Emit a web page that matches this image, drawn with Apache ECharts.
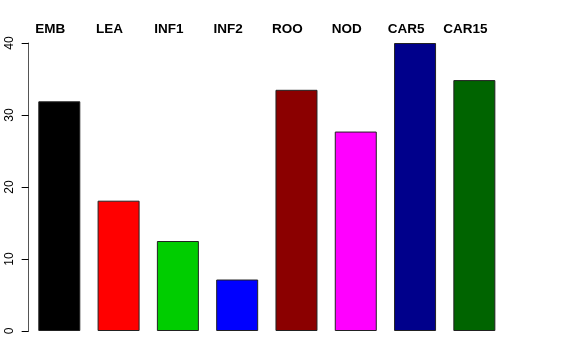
<!DOCTYPE html>
<html><head><meta charset="utf-8">
<script src="https://cdn.jsdelivr.net/npm/echarts@6/dist/echarts.min.js"></script>
<style>html,body{margin:0;padding:0;background:#fff}#c{width:576px;height:360px}</style>
</head><body><div id="c"></div>
<script>
const categories = ['EMB','LEA','INF1','INF2','ROO','NOD','CAR5','CAR15'];
const values = [31.9, 18.1, 12.5, 7.15, 33.5, 27.7, 40.0, 34.85];
const barColors = ['#000000','#FF0000','#00CD00','#0000FF','#8B0000','#FF00FF','#00008B','#006400'];
const yTicks = [0, 10, 20, 30, 40];

const chart = echarts.init(document.getElementById('c'));
chart.setOption({
  animation: false,
  backgroundColor: '#ffffff',
  textStyle: {fontFamily: 'Liberation Sans'},
  grid: {left: 29.65, right: 72, top: 43, bottom: 29, containLabel: false},
  xAxis: {
    type: 'category', data: categories, position: 'top',
    axisLine: {show: false}, axisTick: {show: false},
    axisLabel: {fontFamily: 'Liberation Sans', fontWeight: 'bold', fontSize: 13.5, color: '#000',
      margin: 7, padding: [0, 18, 0, 0], interval: 0}
  },
  yAxis: {
    type: 'value', min: yTicks[0], max: yTicks[yTicks.length-1], interval: 10, offset: 1,
    splitLine: {show: false},
    axisLine: {show: true, lineStyle: {color: '#555', width: 1}},
    axisTick: {show: true, length: 7, lineStyle: {color: '#000'}},
    axisLabel: {rotate: 90, fontFamily: 'Liberation Sans', fontSize: 12, color: '#000', margin: 13}
  },
  series: [{
    type: 'bar', barWidth: 42,
    data: values.map((v, i) => ({value: v, itemStyle: {color: barColors[i]}})),
    itemStyle: {borderColor: '#222', borderWidth: 1}
  }]
});
</script></body></html>
